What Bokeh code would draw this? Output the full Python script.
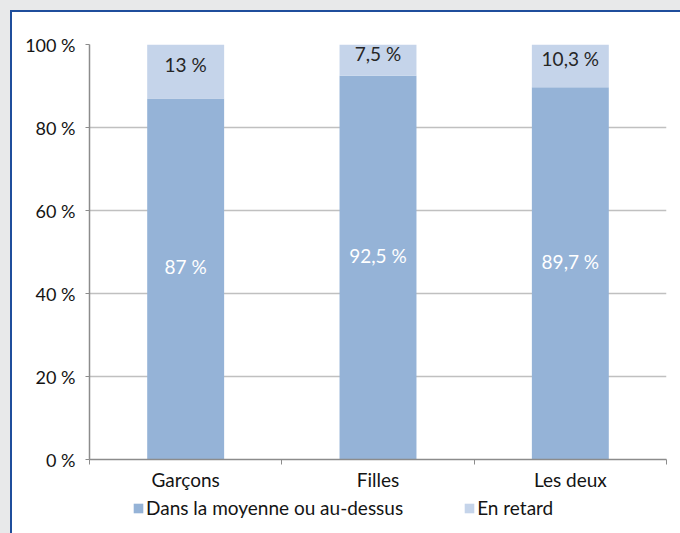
from bokeh.plotting import figure
from bokeh.layouts import column
from bokeh.models import FixedTicker, Legend, LegendItem, ColumnDataSource, Range1d
from bokeh.core.properties import value
from bokeh.embed import file_html
from bokeh.resources import INLINE

categories = ["Garçons", "Filles", "Les deux"]
dans_moyenne = [87.0, 92.5, 89.7]
en_retard = [13.0, 7.5, 10.3]
labels_moyenne = ["87 %", "92,5 %", "89,7 %"]
labels_retard = ["13 %", "7,5 %", "10,3 %"]
y_ticks = [0, 20, 40, 60, 80, 100]
series_names = ["Dans la moyenne ou au-dessus", "En retard"]

FONT = "Lato"
FS = "19px"
FSY = "18px"
C1 = "#95b3d7"
C2 = "#c5d4ea"
TXT = "#141414"

xs = [i + 0.5 for i in range(len(categories))]
src = ColumnDataSource(dict(
    x=xs, a=dans_moyenne, b=en_retard,
    amid=[v / 2 for v in dans_moyenne],
    bmid=[a + b / 2 for a, b in zip(dans_moyenne, en_retard)],
    la=labels_moyenne, lb=labels_retard,
))

p = figure(width=668, height=482, output_backend="svg", toolbar_location=None,
           x_range=Range1d(0, len(categories)), y_range=Range1d(0, 100),
           min_border_left=77, min_border_top=32, min_border_right=14, min_border_bottom=35)
p.outline_line_color = None
p.background_fill_color = "white"
p.border_fill_color = "white"

r = p.vbar_stack(["a", "b"], x="x", width=0.4, color=[C1, C2], source=src, line_color=None)

p.text(x="x", y="amid", text="la", source=src, text_color="white", text_font=value(FONT),
       text_font_size=FS, text_align="center", text_baseline="middle", y_offset=-12)
p.text(x="x", y="bmid", text="lb", source=src, text_color="#262626", text_font=value(FONT),
       text_font_size=FS, text_align="center", text_baseline="middle", y_offset=-7)

# y axis
p.yaxis.ticker = FixedTicker(ticks=y_ticks)
p.yaxis.major_label_overrides = {t: f"{t} %" for t in y_ticks}
p.yaxis.axis_line_color = "#8c8c8c"
p.yaxis.axis_line_width = 1.5
p.yaxis.major_tick_line_color = "#8c8c8c"
p.yaxis.major_tick_out = 4
p.yaxis.major_tick_in = 0
p.yaxis.minor_tick_line_color = None
p.yaxis.major_label_text_font = FONT
p.yaxis.major_label_text_font_size = FSY
p.yaxis.major_label_text_color = TXT
p.yaxis.major_label_standoff = 10

# x axis
p.xaxis.ticker = FixedTicker(ticks=xs, minor_ticks=list(range(len(categories) + 1)))
p.xaxis.major_label_overrides = {x: c for x, c in zip(xs, categories)}
p.xaxis.axis_line_color = "#8c8c8c"
p.xaxis.axis_line_width = 1.5
p.xaxis.major_tick_line_color = None
p.xaxis.minor_tick_line_color = "#8c8c8c"
p.xaxis.minor_tick_out = 5
p.xaxis.minor_tick_in = 0
p.xaxis.major_label_text_font = FONT
p.xaxis.major_label_text_font_size = FS
p.xaxis.major_label_text_color = TXT
p.xaxis.major_label_standoff = 2

p.xgrid.grid_line_color = None
p.ygrid.grid_line_color = "#c0c0c0"
p.ygrid.grid_line_width = 1.5

# legend strip (same series, drawn off-view so only the legend keys show)
pl = figure(width=668, height=39, output_backend="svg", toolbar_location=None,
            x_range=Range1d(0, len(categories)), y_range=Range1d(1000, 1001),
            min_border=0)
pl.axis.visible = False
pl.grid.visible = False
pl.outline_line_color = None
pl.background_fill_color = "white"
pl.border_fill_color = "white"
rl = pl.vbar_stack(["a", "b"], x="x", width=0.4, color=[C1, C2], source=src, line_color=None)

legend = Legend(items=[LegendItem(label=series_names[0], renderers=[rl[0]]),
                       LegendItem(label=series_names[1], renderers=[rl[1]])],
                orientation="horizontal", location=(43, 14))
legend.label_text_font = FONT
legend.label_text_font_size = FS
legend.label_text_color = TXT
legend.glyph_width = 12
legend.glyph_height = 12
legend.label_standoff = 2
legend.spacing = 60
legend.border_line_color = None
legend.background_fill_alpha = 0
legend.padding = 2
legend.margin = 0
pl.add_layout(legend)

layout = column(p, pl, spacing=0)
layout.styles = {"margin-left": "10px", "margin-top": "10px",
                 "border-left": "2px solid #1f4e9c", "border-top": "2px solid #1f4e9c",
                 "box-shadow": "0 -12px 0 0 #e8e9ea, -12px 0 0 0 #e8e9ea, -12px -12px 0 0 #e8e9ea"}

open("out.html", "w").write(file_html(layout, INLINE))
